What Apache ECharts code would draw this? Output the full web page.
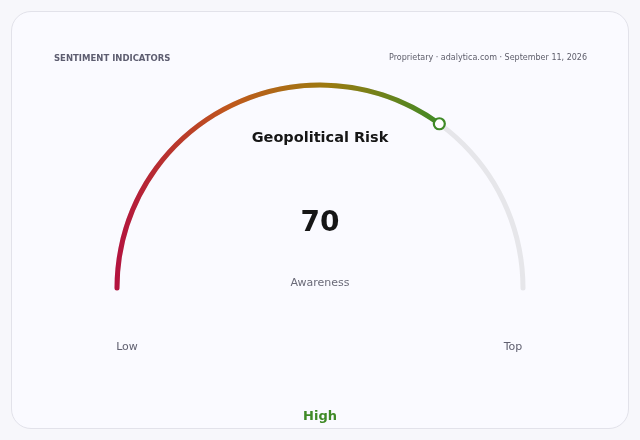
<!DOCTYPE html>
<html>
<head>
<meta charset="utf-8">
<script src="https://cdn.jsdelivr.net/npm/echarts@6/dist/echarts.min.js"></script>
<style>
  html, body { margin: 0; padding: 0; background: #f7f7fb; }
  #card {
    position: absolute; left: 11px; top: 11px; width: 616px; height: 416px;
    border: 1px solid #e2e2ea; border-radius: 20px; background: #fafaff;
  }
  #chart { position: absolute; left: 0; top: 0; width: 640px; height: 440px; }
</style>
</head>
<body>
<div id="card"></div>
<div id="chart"></div>
<script>
var indicatorName = 'Geopolitical Risk';
var indicatorValue = [70];
var scaleMin = 0;
var scaleMax = 100;
var endLabels = ['Low', 'Top'];
var subLabel = 'Awareness';
var levelLabel = 'High';

var cx = 320, cy = 288, r = 203, w = 5;
var font = 'DejaVu Sans, sans-serif';

var option = {
    title: [
        { text: 'SENTIMENT INDICATORS', left: 54, top: 54, padding: 0,
          textStyle: { fontSize: 8.5, fontWeight: 'bold', color: '#5d5d70', fontFamily: font } },
        { text: 'Proprietary · adalytica.com · September 11, 2026', right: 53, top: 54, padding: 0,
          textStyle: { fontSize: 8, fontWeight: 'normal', color: '#5d5d6a', fontFamily: font } },
        { text: subLabel, left: 'center', top: 278, padding: 0,
          textStyle: { fontSize: 11, fontWeight: 'normal', color: '#6a6a78', fontFamily: font } },
        { text: endLabels[0], left: 127, top: 342, padding: 0, textAlign: 'center',
          textStyle: { fontSize: 11, fontWeight: 'normal', color: '#606070', fontFamily: font } },
        { text: endLabels[1], left: 513, top: 342, padding: 0, textAlign: 'center',
          textStyle: { fontSize: 11, fontWeight: 'normal', color: '#606070', fontFamily: font } },
        { text: levelLabel, left: 'center', top: 410, padding: 0,
          textStyle: { fontSize: 13, fontWeight: 'bold', color: '#3f8a26', fontFamily: font } }
    ],
    polar: { center: [cx, cy], radius: [0, r] },
    angleAxis: { type: 'value', min: scaleMin, max: scaleMax * 2, startAngle: 180, clockwise: true, show: false },
    radiusAxis: { type: 'value', min: 0, max: 1, show: false },
    series: [
        {
            type: 'gauge',
            center: [cx, cy],
            radius: r + w / 2,
            startAngle: 180,
            endAngle: 0,
            min: scaleMin,
            max: scaleMax,
            progress: {
                show: true,
                width: w,
                roundCap: true,
                itemStyle: {
                    color: new echarts.graphic.LinearGradient(0, 0, 1, 0, [
                        { offset: 0, color: '#b3123f' },
                        { offset: 0.35, color: '#c0581c' },
                        { offset: 0.65, color: '#9c7a10' },
                        { offset: 1, color: '#3f8a26' }
                    ])
                }
            },
            axisLine: { roundCap: true, lineStyle: { width: w, color: [[1, '#e6e6ea']] } },
            axisTick: { show: false },
            splitLine: { show: false },
            axisLabel: { show: false },
            pointer: { show: false },
            anchor: { show: false },
            title: { offsetCenter: [0, -150], fontSize: 14.5, fontWeight: 'bold', color: '#161616', fontFamily: font },
            detail: { offsetCenter: [0, -64], fontSize: 28, fontWeight: 'bold', color: '#161616', fontFamily: font,
                      formatter: '{value}' },
            data: [{ value: indicatorValue[0], name: indicatorName }]
        },
        {
            type: 'scatter',
            coordinateSystem: 'polar',
            symbol: 'circle',
            symbolSize: 11,
            itemStyle: { color: '#ffffff', borderColor: '#3f8a26', borderWidth: 2.2, opacity: 1 },
            data: indicatorValue.map(function (v) { return [1, v]; }),
            z: 5
        }
    ]
};

var chart = echarts.init(document.getElementById('chart'));
chart.setOption(option);
</script>
</body>
</html>
